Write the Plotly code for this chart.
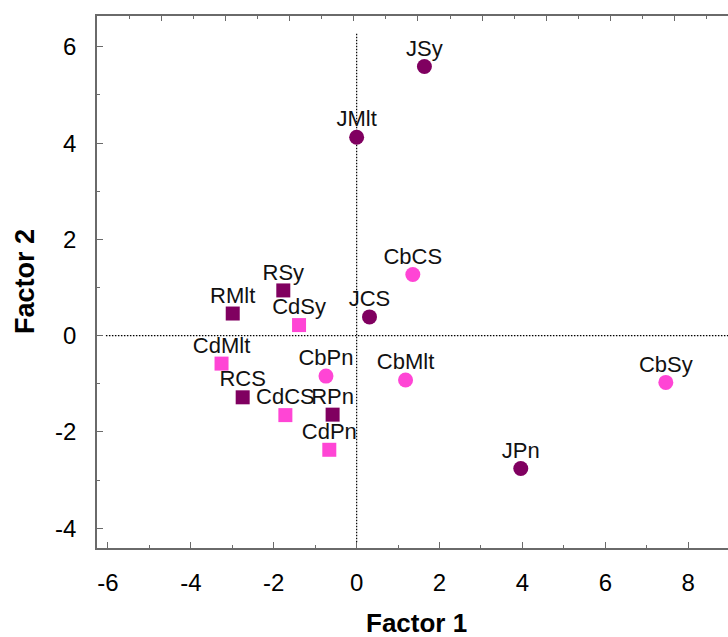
import plotly.graph_objects as go

# ---- data ----
j_labels = ["JSy", "JMlt", "JCS", "JPn"]
j_x = [1.635, 0.0, 0.31, 3.96]
j_y = [5.59, 4.12, 0.39, -2.76]

cb_labels = ["CbCS", "CbPn", "CbMlt", "CbSy"]
cb_x = [1.355, -0.74, 1.18, 7.46]
cb_y = [1.27, -0.84, -0.92, -0.97]

r_labels = ["RSy", "RMlt", "RCS", "RPn"]
r_x = [-1.77, -2.99, -2.75, -0.58]
r_y = [0.94, 0.46, -1.28, -1.64]

cd_labels = ["CdSy", "CdMlt", "CdCS", "CdPn"]
cd_x = [-1.39, -3.26, -1.72, -0.66]
cd_y = [0.22, -0.58, -1.65, -2.37]

x_ticks = [-6, -4, -2, 0, 2, 4, 6, 8]
y_ticks = [-4, -2, 0, 2, 4, 6]

# ---- styles ----
DARK = "#800060"
PINK = "#FF45D5"
FONT = "Liberation Sans, Arial, sans-serif"
AXIS_COL = "#6a6a6a"
X_RANGE = [-6.265, 8.96]
Y_RANGE = [-4.41, 6.64]
TOP_RANGE = [0, 9.83]
VLINE_Y = [-4.29, 6.29]
HLINE_X = [-6.05, 9.2]

fig = go.Figure()

def add_markers(xs, ys, color, symbol, size):
    fig.add_trace(go.Scatter(
        x=xs, y=ys, mode="markers",
        marker=dict(color=color, symbol=symbol, size=size, line=dict(width=0)),
        showlegend=False, cliponaxis=False,
    ))

def add_labels(xs, ys, labels):
    # transparent small markers only set the label offset above the point
    fig.add_trace(go.Scatter(
        x=xs, y=ys, text=labels, mode="markers+text",
        textposition="top center",
        textfont=dict(family=FONT, size=22, color="#111111"),
        marker=dict(color="rgba(0,0,0,0)", size=7, line=dict(width=0)),
        showlegend=False, cliponaxis=False, hoverinfo="skip",
    ))

add_markers(r_x, r_y, DARK, "square", 14)
add_markers(cd_x, cd_y, PINK, "square", 14)
add_markers(j_x, j_y, DARK, "circle", 15)
add_markers(cb_x, cb_y, PINK, "circle", 15)
add_labels(cd_x, cd_y, cd_labels)
add_labels(r_x, r_y, r_labels)
add_labels(j_x, j_y, j_labels)
add_labels(cb_x, cb_y, cb_labels)

# placeholder trace (no visible points) so the top axis is built
fig.add_trace(go.Scatter(x=[None], y=[None], xaxis="x2", yaxis="y",
                         mode="markers", showlegend=False, hoverinfo="skip"))

# dotted zero lines
fig.add_shape(type="line", xref="x", yref="y", x0=0, x1=0, y0=VLINE_Y[0], y1=VLINE_Y[1],
              line=dict(color="black", width=1.2, dash="1.5px,1.5px"), layer="below")
fig.add_shape(type="line", xref="x", yref="y", x0=HLINE_X[0], x1=HLINE_X[1], y0=0, y1=0,
              line=dict(color="black", width=1.2, dash="1.5px,1.5px"), layer="below")

fig.update_layout(
    width=728, height=637,
    margin=dict(l=97, r=0, t=16, b=89),
    paper_bgcolor="white", plot_bgcolor="white",
    font=dict(family=FONT, color="black"),
    xaxis=dict(
        range=X_RANGE, tickvals=x_ticks, ticktext=[str(v) for v in x_ticks],
        showgrid=False, zeroline=False, showline=True, linecolor=AXIS_COL, linewidth=1.5,
        ticks="inside", ticklen=6, tickwidth=1, tickcolor=AXIS_COL,
        minor=dict(dtick=1, tick0=0, ticks="inside", ticklen=3, tickcolor=AXIS_COL, showgrid=False),
        tickfont=dict(family=FONT, size=24, color="black"),
        ticklabelstandoff=12,
    ),
    xaxis2=dict(
        overlaying="x", side="top", anchor="y", range=TOP_RANGE, autorange=False,
        tickmode="linear", tick0=0, dtick=1,
        showgrid=False, zeroline=False, showline=True, linecolor=AXIS_COL, linewidth=1.5,
        ticks="inside", ticklen=5, tickwidth=1, tickcolor=AXIS_COL, showticklabels=False,
        minor=dict(dtick=0.5, tick0=0, ticks="inside", ticklen=3, tickwidth=1,
                   tickcolor=AXIS_COL, showgrid=False),
    ),
    yaxis=dict(
        range=Y_RANGE, tickvals=y_ticks, ticktext=[str(v) for v in y_ticks],
        showgrid=False, zeroline=False, showline=True, linecolor=AXIS_COL, linewidth=1.5,
        ticks="inside", ticklen=6, tickwidth=1, tickcolor=AXIS_COL,
        minor=dict(dtick=1, tick0=0, ticks="inside", ticklen=3, tickcolor=AXIS_COL, showgrid=False),
        tickfont=dict(family=FONT, size=24, color="black"),
        ticklabelstandoff=14,
    ),
    annotations=[
        dict(text="<b>Factor 1</b>", xref="paper", yref="paper", x=0.507, y=0, yshift=-75,
             xanchor="center", yanchor="middle", showarrow=False,
             font=dict(family=FONT, size=26, color="black")),
        dict(text="<b>Factor 2</b>", xref="paper", yref="paper", x=0, xshift=-72, y=0.5,
             xanchor="center", yanchor="middle", textangle=-90, showarrow=False,
             font=dict(family=FONT, size=27, color="black")),
    ],
)

fig.write_html("out.html")
